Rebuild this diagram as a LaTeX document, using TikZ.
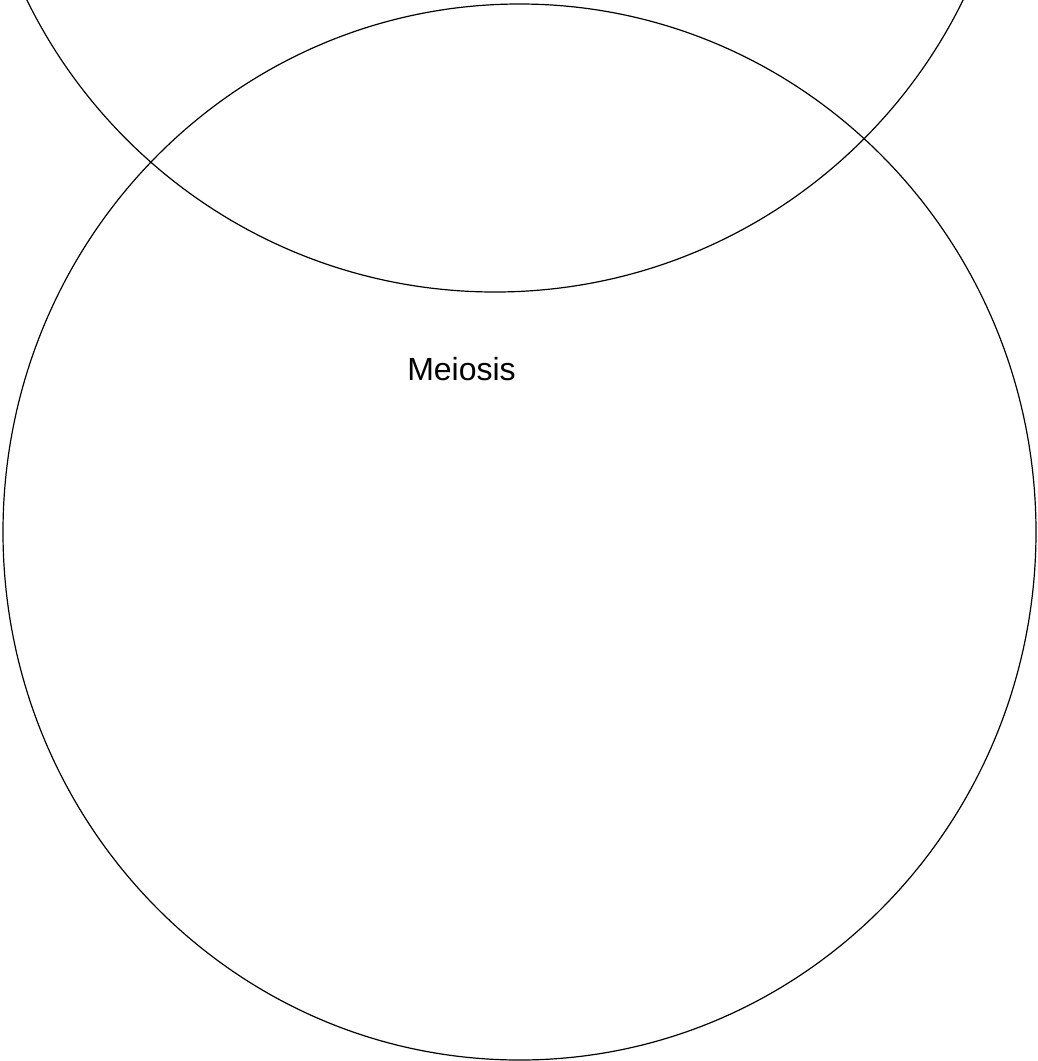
\documentclass[tikz,border=0pt]{standalone}
\usepackage{fontspec}
\setmainfont{Liberation Sans}
\tikzset{ring/.style={draw=black, line width=1.2pt}}

\begin{document}
\begin{tikzpicture}[x=1pt, y=-1pt]
    \useasboundingbox (0,0) rectangle (1037,1061);
    \clip (0,0) rectangle (1037,1061);
    % Upper circle
    \draw[ring] (495,-229) circle[radius=521];
    % Large circle
    \draw[ring] (519.5,532) ellipse[x radius=516.5, y radius=528];
    % Label
    \node[anchor=base, inner sep=0pt, font=\fontsize{32}{38}\selectfont] (meiosis) at (461.5,380) {Meiosis};
\end{tikzpicture}
\end{document}
